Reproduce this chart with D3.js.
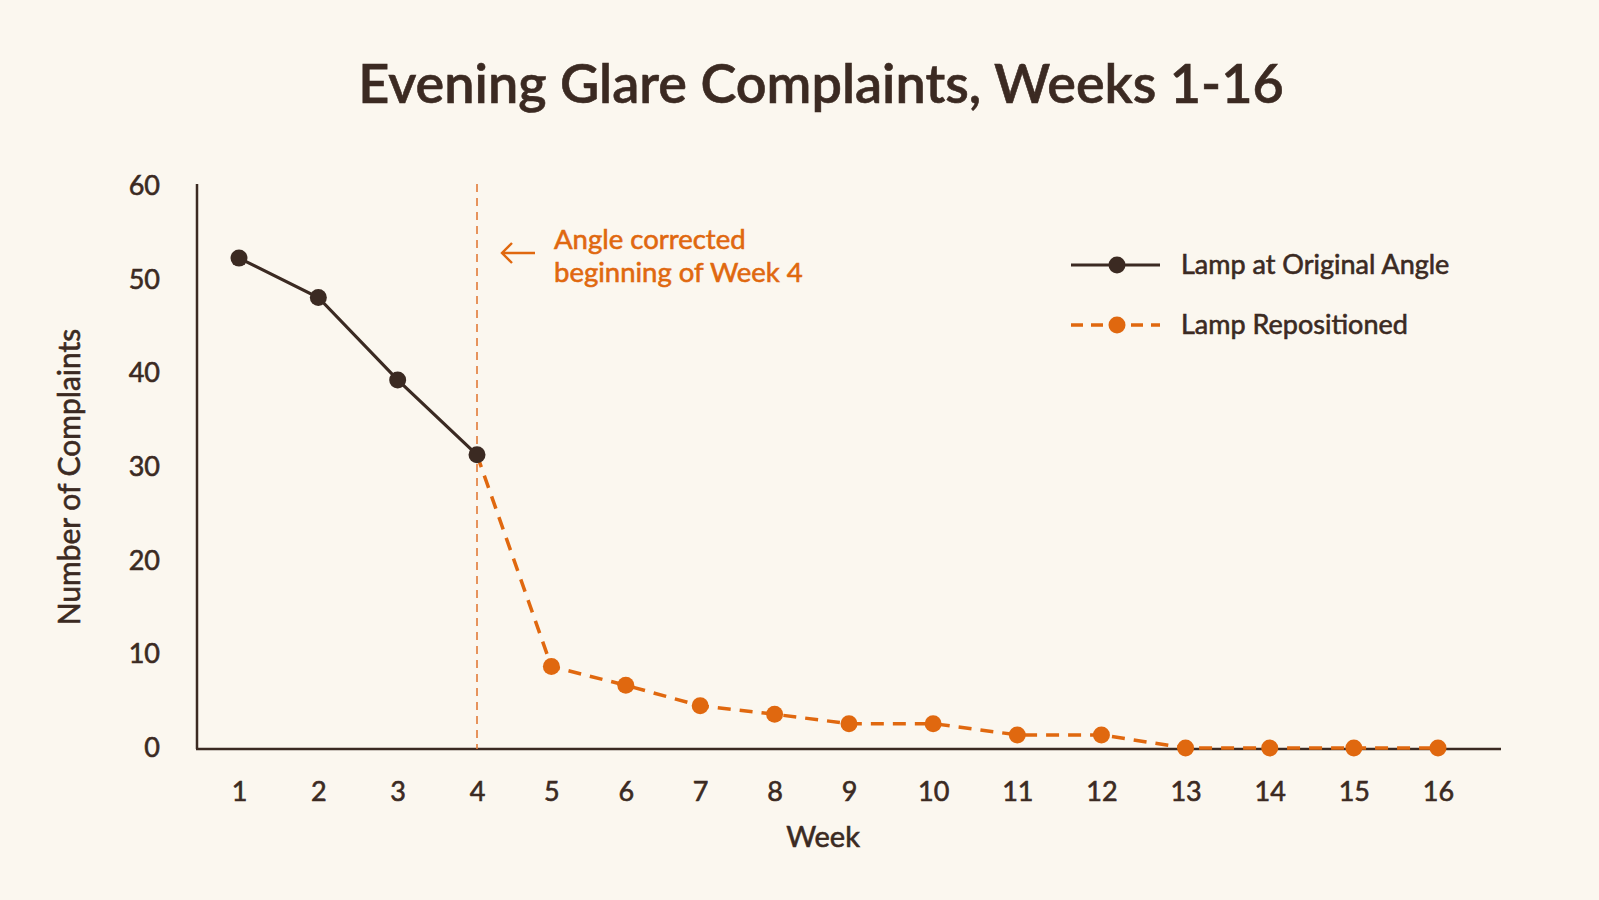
<!DOCTYPE html>
<html>
<head>
<meta charset="utf-8">
<script src="https://cdn.jsdelivr.net/npm/d3@7"></script>
<style>
  html, body { margin: 0; padding: 0; background: #fbf7ef; }
  svg { display: block; font-family: Lato, "Noto Sans", sans-serif; }
  .heavy { stroke-width: 0.6px; paint-order: stroke; }
</style>
</head>
<body>
<div id="chart"></div>
<script>
// data
var weeks = [1, 2, 3, 4, 5, 6, 7, 8, 9, 10, 11, 12, 13, 14, 15, 16];
var originalWeeks = [1, 2, 3, 4];
var originalValues = [52.3, 48.1, 39.3, 31.3];
var repositionedWeeks = [4, 5, 6, 7, 8, 9, 10, 11, 12, 13, 14, 15, 16];
var repositionedValues = [31.3, 8.7, 6.7, 4.5, 3.6, 2.6, 2.6, 1.4, 1.4, 0, 0, 0, 0];
var yTicks = [0, 10, 20, 30, 40, 50, 60];
var correctionWeek = 4;
var seriesNames = ["Lamp at Original Angle", "Lamp Repositioned"];

var width = 1599, height = 900;
var dark = "#3b2a22", orange = "#e0680f";

var svg = d3.select("#chart").append("svg")
    .attr("width", width)
    .attr("height", height);

svg.append("rect").attr("width", width).attr("height", height).attr("fill", "#fbf7ef");

// week spacing in the original is not quite even, so piecewise linear
var x = d3.scaleLinear().domain([1, 4, 9, 16]).range([239, 477, 849, 1438]);
var y = d3.scaleLinear().domain([0, 60]).range([748, 186]);

var original = originalWeeks.map(function(w, i) { return { week: w, value: originalValues[i] }; });
var repositioned = repositionedWeeks.map(function(w, i) { return { week: w, value: repositionedValues[i] }; });

// title
svg.append("text")
    .attr("class", "heavy")
    .attr("x", 821).attr("y", 84)
    .attr("dy", "0.35em")
    .attr("text-anchor", "middle")
    .style("font-size", "54px")
    .style("font-weight", 600)
    .style("fill", dark).style("stroke", dark)
    .text("Evening Glare Complaints, Weeks 1-16");

// axes
var yAxis = svg.append("g")
    .attr("transform", "translate(197,0)")
    .call(d3.axisLeft(y).tickValues(yTicks).tickSize(0).tickPadding(37));
var xAxis = svg.append("g")
    .attr("transform", "translate(0,749)")
    .call(d3.axisBottom(x).tickValues(weeks).tickFormat(d3.format("d")).tickSize(0).tickPadding(33));
[yAxis, xAxis].forEach(function(g) {
  g.select(".domain").remove();
  g.selectAll("text")
    .attr("class", "heavy")
    .style("font-family", "Lato, 'Noto Sans', sans-serif")
    .style("font-size", "27px")
    .style("fill", dark).style("stroke", dark);
});

svg.append("line")
    .attr("x1", 197).attr("x2", 197).attr("y1", 184).attr("y2", 749)
    .attr("stroke", dark).attr("stroke-width", 2.5);
svg.append("line")
    .attr("x1", 196).attr("x2", 1501).attr("y1", 749).attr("y2", 749)
    .attr("stroke", dark).attr("stroke-width", 2.5);

// axis titles
svg.append("text")
    .attr("class", "heavy")
    .attr("x", 823).attr("y", 837).attr("dy", "0.35em")
    .attr("text-anchor", "middle")
    .style("font-size", "29px")
    .style("fill", dark).style("stroke", dark)
    .text("Week");
svg.append("text")
    .attr("class", "heavy")
    .attr("transform", "translate(69,477) rotate(-90)")
    .attr("dy", "0.35em")
    .attr("text-anchor", "middle")
    .style("font-size", "30px")
    .style("fill", dark).style("stroke", dark)
    .text("Number of Complaints");

// correction marker
svg.append("line")
    .attr("x1", x(correctionWeek)).attr("x2", x(correctionWeek))
    .attr("y1", 184).attr("y2", 749)
    .attr("stroke", "#e27a38").attr("stroke-width", 1.6)
    .attr("stroke-dasharray", "8,6");

var ann = svg.append("g").style("fill", orange).style("stroke", orange);
ann.append("path")
    .attr("d", "M502,253 L535,253 M512,243 L502,253 L512,263")
    .attr("fill", "none").attr("stroke-width", 2.4);
ann.append("text").attr("class", "heavy").attr("x", 554).attr("y", 239).attr("dy", "0.35em")
    .style("font-size", "27.5px").text("Angle corrected");
ann.append("text").attr("class", "heavy").attr("x", 554).attr("y", 272).attr("dy", "0.35em")
    .style("font-size", "27.5px").text("beginning of Week 4");

var line = d3.line()
    .x(function(d) { return x(d.week); })
    .y(function(d) { return y(d.value); });

svg.append("path").datum(repositioned)
    .attr("d", line)
    .attr("fill", "none").attr("stroke", orange)
    .attr("stroke-width", 3.5).attr("stroke-dasharray", "13,9");
svg.append("g").selectAll("circle")
    .data(repositioned.filter(function(d) { return d.week > correctionWeek; }))
    .enter().append("circle")
    .attr("cx", function(d) { return x(d.week); })
    .attr("cy", function(d) { return y(d.value); })
    .attr("r", 8.5)
    .attr("fill", orange);

svg.append("path").datum(original)
    .attr("d", line)
    .attr("fill", "none").attr("stroke", dark)
    .attr("stroke-width", 3.2);
svg.append("g").selectAll("circle")
    .data(original)
    .enter().append("circle")
    .attr("cx", function(d) { return x(d.week); })
    .attr("cy", function(d) { return y(d.value); })
    .attr("r", 8.5)
    .attr("fill", dark);

// legend
var legend = svg.append("g").selectAll("g")
    .data(seriesNames)
    .enter().append("g")
    .attr("transform", function(d, i) { return "translate(1071," + (265 + i * 60) + ")"; });
legend.append("line")
    .attr("x1", 0).attr("x2", 89)
    .attr("stroke", function(d, i) { return i ? orange : dark; })
    .attr("stroke-width", function(d, i) { return i ? 3.5 : 3.2; })
    .attr("stroke-dasharray", function(d, i) { return i ? "12,8" : null; });
legend.append("circle")
    .attr("cx", 46).attr("r", 8.5)
    .attr("fill", function(d, i) { return i ? orange : dark; });
legend.append("text")
    .attr("class", "heavy")
    .attr("x", 110).attr("dy", "0.35em")
    .style("font-size", "27px")
    .style("fill", dark).style("stroke", dark)
    .text(function(d) { return d; });
</script>
</body>
</html>
